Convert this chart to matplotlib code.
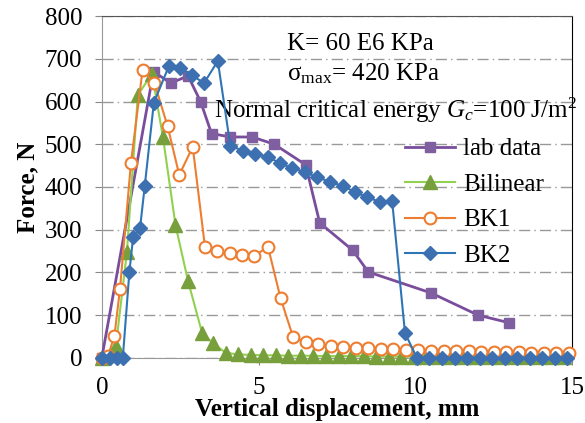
import matplotlib
matplotlib.use("Agg")
import matplotlib.pyplot as plt

plt.rcParams['font.family'] = ['Liberation Serif', 'DejaVu Serif']
plt.rcParams['mathtext.fontset'] = 'custom'
plt.rcParams['mathtext.rm'] = 'Liberation Serif'
plt.rcParams['mathtext.it'] = 'Liberation Serif:italic'

# lab data
lab_x = [0, 1.65, 2.2, 2.75, 3.15, 3.5, 4.1, 4.8, 5.5, 6.5, 6.95, 8.0, 8.5, 10.5, 12.0, 13.0]
lab_f = [0, 670, 643, 660, 600, 525, 517, 517, 500, 452, 316, 252, 201, 152, 100, 82]

# Bilinear
bil_x = [0, 0.45, 0.8, 1.15, 1.6, 1.95, 2.35, 2.75, 3.2, 3.55, 3.95, 4.35, 4.75, 5.15,
         5.55, 5.95, 6.35, 6.75, 7.15, 7.55, 7.95, 8.35, 8.75, 9.15, 9.55, 9.95, 10.35,
         10.75, 11.15, 11.55, 11.95, 12.35, 12.75, 13.15, 13.55, 13.95, 14.35, 14.75]
bil_f = [0, 28, 247, 615, 665, 517, 311, 180, 58, 34, 12, 8, 7, 6,
         6, 5, 5, 5, 4, 4, 4, 4, 3, 3, 3, 3, 3,
         3, 3, 2, 2, 2, 2, 2, 2, 2, 2, 2]

# BK1
bk1_x = [0, 0.2, 0.4, 0.58, 0.93, 1.3, 1.68, 2.1, 2.47, 2.9, 3.29, 3.67, 4.08, 4.47,
         4.85, 5.3, 5.7, 6.1, 6.5, 6.9, 7.3, 7.7, 8.1, 8.5, 8.9, 9.3, 9.7, 10.1,
         10.5, 10.9, 11.3, 11.7, 12.1, 12.5, 12.9, 13.3, 13.7, 14.1, 14.5, 14.9]
bk1_f = [0, 5, 50, 161, 456, 674, 643, 542, 428, 494, 260, 251, 245, 241,
         238, 260, 140, 49, 37, 32, 28, 26, 24, 22, 21, 20, 19, 18,
         17, 16, 15, 15, 14, 14, 13, 13, 12, 12, 11, 11]

# BK2
bk2_x = [0, 0.26, 0.48, 0.67, 0.88, 1.0, 1.22, 1.37, 1.66, 2.14, 2.49, 2.87, 3.26, 3.7,
         4.1, 4.5, 4.9, 5.3, 5.68, 6.06, 6.48, 6.86, 7.28, 7.7, 8.08, 8.46, 8.87, 9.26,
         9.67, 10.05, 10.45, 10.85, 11.25, 11.65, 12.05, 12.45, 12.85, 13.25, 13.65,
         14.05, 14.45, 14.85]
bk2_f = [0, 0, 0, 0, 201, 283, 304, 402, 597, 683, 679, 662, 643, 695,
         496, 485, 478, 470, 456, 444, 435, 423, 412, 402, 388, 376, 365, 367,
         58, 0, 0, 0, 0, 0, 0, 0, 0, 0, 0,
         0, 0, 0]

fig = plt.figure(figsize=(5.85, 4.23), dpi=100)
ax = fig.add_axes([0.174, 0.154, 0.804, 0.808])

ax.plot(lab_x, lab_f, color='#7A4D9C', lw=2, marker='s', ms=7.5,
        mfc='#7F5FA0', mec='#7F5FA0', label='lab data', clip_on=False, zorder=3)
ax.plot(bil_x, bil_f, color='#92D050', lw=1.5, marker='^', ms=10,
        mfc='#77A03C', mec='#77A03C', label='Bilinear', clip_on=False, zorder=3)
ax.plot(bk1_x, bk1_f, color='#ED7D31', lw=1.5, marker='o', ms=8.5,
        mfc='white', mec='#ED7D31', mew=1.5, label='BK1', clip_on=False, zorder=4)
ax.plot(bk2_x, bk2_f, color='#2E75B6', lw=1.5, marker='D', ms=7,
        mfc='#3D70B0', mec='#3D70B0', label='BK2', clip_on=False, zorder=5)

ax.set_xlim(0, 15)
ax.set_ylim(0, 800)
ax.set_xticks([0, 5, 10, 15])
ax.set_yticks(range(0, 801, 100))
ax.tick_params(labelsize=18, length=5, color='#888888', pad=9)
ax.yaxis.grid(True, color='#999999', linestyle=(0, (8, 3, 1, 3)), lw=1)
ax.set_axisbelow(True)
for s in ['left', 'bottom']:
    ax.spines[s].set_color('#999999')
ax.spines['top'].set_color('#555555')
ax.spines['right'].set_color('black')

ax.set_xlabel('Vertical displacement, mm', fontsize=18, fontweight='bold', labelpad=-1)
ax.set_ylabel('Force, N', fontsize=18, fontweight='bold', labelpad=4)

ax.text(0.394, 0.90, 'K= 60 E6 KPa', transform=ax.transAxes, fontsize=18,
        ha='left', va='baseline')
ax.text(0.394, 0.813, r'$\mathrm{\sigma_{max}}$= 420 KPa', transform=ax.transAxes,
        fontsize=18, ha='left', va='baseline')
ax.text(0.238, 0.702, r'Normal critical energy $G_c$=100 J/m$^2$', transform=ax.transAxes,
        fontsize=18, ha='left', va='baseline')

ax.legend(loc='upper left', bbox_to_anchor=(0.619, 0.68), frameon=False, fontsize=18,
          handlelength=2.0, labelspacing=0.52, borderpad=0, handletextpad=0.3)

fig.savefig('out.png', dpi=100)
